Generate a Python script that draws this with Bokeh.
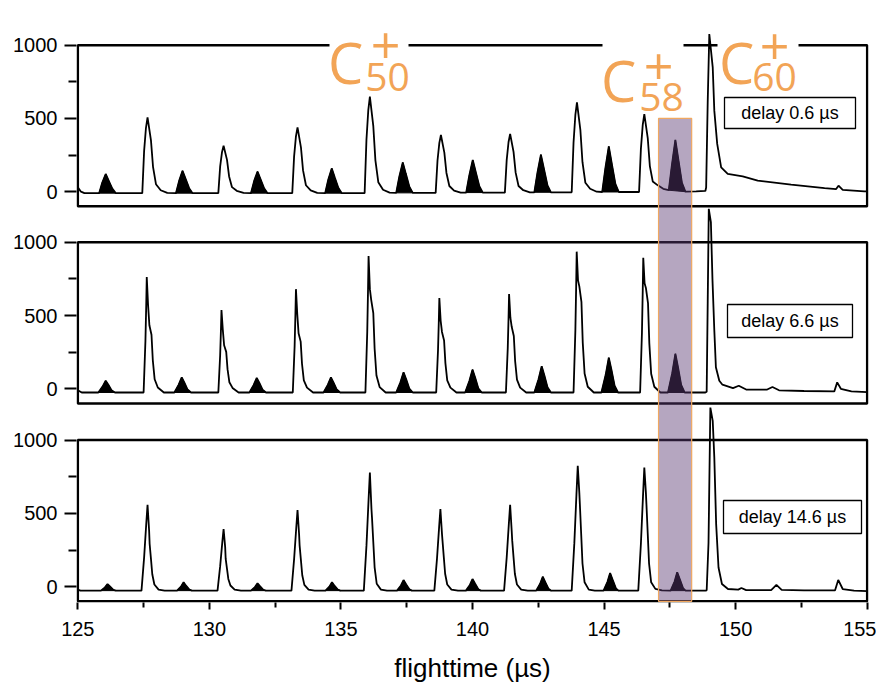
from bokeh.plotting import figure
from bokeh.models import Range1d, FixedTicker, Label
from bokeh.embed import file_html
from bokeh.resources import INLINE

# ---------------- data ----------------
delays = ["delay 0.6 µs", "delay 6.6 µs", "delay 14.6 µs"]

# (flight time in µs, signal) points along each trace
spectrum_0p6 = [
    (125.00, 30), (125.12, 0), (125.25, -10),
    (125.81, -10), (125.93, 63), (126.06, 121), (126.18, 73), (126.31, 21), (126.44, -10),
    (127.45, -10), (127.52, 279), (127.59, 436), (127.65, 507), (127.78, 350), (127.86, 167), (127.97, 51), (128.15, 10), (128.40, -8),
    (128.73, -10), (128.85, 74), (128.98, 143), (129.10, 86), (129.23, 24), (129.36, -10),
    (130.34, -10), (130.41, 173), (130.48, 270), (130.54, 314), (130.67, 217), (130.75, 104), (130.86, 31), (131.04, 6), (131.30, -8),
    (131.58, -10), (131.70, 72), (131.83, 138), (131.95, 83), (132.08, 23), (132.21, -10),
    (133.15, -10), (133.22, 241), (133.29, 378), (133.35, 439), (133.48, 303), (133.56, 145), (133.67, 44), (133.85, 9), (134.10, -8),
    (134.40, -10), (134.52, 83), (134.65, 159), (134.77, 95), (134.90, 27), (135.03, -10),
    (135.90, -10), (135.97, 356), (136.04, 557), (136.10, 648), (136.23, 447), (136.31, 214), (136.42, 65), (136.60, 13), (136.85, -6),
    (137.10, -8), (137.22, 104), (137.35, 200), (137.47, 120), (137.60, 34), (137.73, -8),
    (138.60, -8), (138.67, 213), (138.74, 333), (138.80, 387), (138.93, 267), (139.01, 128), (139.12, 39), (139.30, 8), (139.55, -6),
    (139.76, -6), (139.88, 112), (140.01, 216), (140.13, 130), (140.26, 37), (140.39, -6),
    (141.23, -6), (141.30, 217), (141.37, 339), (141.43, 394), (141.56, 272), (141.64, 130), (141.75, 39), (141.93, 10), (142.18, -4),
    (142.35, -4), (142.47, 132), (142.60, 253), (142.72, 152), (142.85, 43), (142.98, -4),
    (143.77, -4), (143.84, 336), (143.91, 525), (143.97, 610), (144.10, 421), (144.18, 201), (144.29, 61), (144.47, 20), (144.72, 0),
    (144.93, -2), (145.05, 161), (145.18, 309), (145.30, 185), (145.43, 53), (145.56, -2),
    (146.33, -2), (146.40, 292), (146.47, 456), (146.53, 530), (146.66, 366), (146.74, 175), (146.85, 70), (147.03, 45), (147.25, 20),
    (147.46, 10), (147.58, 184), (147.71, 353), (147.83, 212), (147.96, 60), (148.09, 0),
    (148.50, 2), (148.85, 5),
    (148.88, 29), (148.94, 621), (149.00, 1076), (149.13, 848), (149.19, 553), (149.30, 326), (149.45, 166), (149.70, 121),
    (150.27, 104), (150.84, 75), (152.11, 48), (153.38, 25), (153.82, 18), (153.91, 41), (154.07, 12), (154.89, 2), (155.00, 2),
]

spectrum_6p6 = [
    (125.00, -10), (125.15, -25),
    (125.78, -25), (125.94, 15), (126.06, 55), (126.16, 28), (126.28, -10), (126.41, -25),
    (127.50, -25), (127.57, 328), (127.60, 572), (127.62, 763), (127.67, 572), (127.72, 434), (127.80, 369), (127.85, 195), (127.92, 65), (128.04, 9), (128.27, -25),
    (128.67, -25), (128.83, 27), (128.95, 78), (129.05, 42), (129.17, -5), (129.30, -25),
    (130.34, -25), (130.41, 231), (130.44, 404), (130.46, 538), (130.51, 404), (130.56, 297), (130.64, 252), (130.69, 134), (130.76, 45), (130.88, 6), (131.11, -25),
    (131.52, -25), (131.68, 25), (131.80, 74), (131.90, 40), (132.02, -6), (132.15, -25),
    (133.17, -25), (133.24, 292), (133.27, 510), (133.29, 680), (133.34, 510), (133.39, 379), (133.47, 322), (133.52, 171), (133.59, 57), (133.71, 8), (133.94, -25),
    (134.34, -25), (134.50, 27), (134.62, 78), (134.72, 42), (134.84, -5), (134.97, -25),
    (135.93, -25), (136.00, 390), (136.03, 680), (136.05, 906), (136.10, 680), (136.15, 607), (136.23, 516), (136.28, 273), (136.35, 91), (136.47, 12), (136.70, -25),
    (137.10, -25), (137.26, 44), (137.38, 113), (137.48, 65), (137.60, 1), (137.73, -25),
    (138.62, -25), (138.69, 266), (138.72, 464), (138.74, 619), (138.79, 464), (138.84, 388), (138.92, 330), (138.97, 175), (139.04, 58), (139.16, 8), (139.39, -25),
    (139.72, -25), (139.88, 53), (140.00, 131), (140.10, 77), (140.22, 4), (140.35, -25),
    (141.27, -25), (141.34, 278), (141.37, 485), (141.39, 646), (141.44, 485), (141.49, 423), (141.57, 360), (141.62, 190), (141.69, 63), (141.81, 8), (142.04, -25),
    (142.35, -25), (142.51, 65), (142.63, 154), (142.73, 92), (142.85, 11), (142.98, -25),
    (143.84, -25), (143.91, 402), (143.94, 702), (143.96, 936), (144.01, 740), (144.06, 699), (144.14, 594), (144.19, 315), (144.26, 105), (144.38, 14), (144.61, -25),
    (144.90, -25), (145.06, 94), (145.18, 212), (145.28, 130), (145.40, 22), (145.53, -25),
    (146.37, -25), (146.44, 384), (146.47, 670), (146.49, 894), (146.54, 720), (146.59, 688), (146.67, 585), (146.72, 310), (146.79, 103), (146.91, 14), (147.14, -25),
    (147.43, -25), (147.59, 107), (147.71, 239), (147.81, 147), (147.93, 27), (148.06, -25),
    (148.85, -25),
    (148.90, -20), (148.94, 600), (148.98, 1228), (149.06, 1138), (149.12, 745), (149.19, 400), (149.25, 147), (149.38, 55), (149.50, 28),
    (149.90, 5), (150.12, 21), (150.40, -5), (151.20, -5), (151.40, 12), (151.65, -10), (152.60, -15), (153.75, -18), (153.86, 44),
    (154.00, 0), (154.40, -18), (155.00, -22),
]

spectrum_14p6 = [
    (125.00, -20), (125.10, -27),
    (125.88, -27), (126.03, -5), (126.13, 18), (126.23, 0), (126.35, -22), (126.45, -27),
    (127.42, -27), (127.52, 200), (127.60, 427), (127.65, 559), (127.71, 382), (127.73, 291), (127.78, 190), (127.83, 85), (127.91, 15), (128.07, -20), (128.30, -27),
    (128.77, -27), (128.92, 0), (129.02, 30), (129.12, 5), (129.24, -20), (129.34, -27),
    (130.31, -27), (130.41, 140), (130.49, 300), (130.54, 393), (130.60, 270), (130.62, 189), (130.67, 121), (130.72, 53), (130.80, 8), (130.96, -20), (131.20, -27),
    (131.58, -27), (131.73, -3), (131.83, 23), (131.93, 2), (132.05, -21), (132.15, -27),
    (133.12, -27), (133.22, 188), (133.30, 397), (133.35, 523), (133.41, 356), (133.43, 280), (133.48, 179), (133.53, 78), (133.61, 12), (133.77, -20), (134.00, -27),
    (134.41, -27), (134.56, 0), (134.66, 30), (134.76, 5), (134.88, -20), (134.98, -27),
    (135.87, -27), (135.97, 280), (136.05, 592), (136.10, 779), (136.16, 530), (136.18, 473), (136.23, 303), (136.28, 132), (136.36, 20), (136.52, -20), (136.75, -27),
    (137.13, -27), (137.28, 8), (137.38, 45), (137.48, 15), (137.60, -18), (137.70, -27),
    (138.55, -27), (138.65, 190), (138.73, 403), (138.78, 530), (138.84, 360), (138.86, 314), (138.91, 200), (138.96, 88), (139.04, 15), (139.20, -20), (139.45, -27),
    (139.75, -27), (139.90, 12), (140.00, 52), (140.10, 20), (140.22, -17), (140.32, -27),
    (141.20, -27), (141.30, 200), (141.38, 425), (141.43, 559), (141.49, 380), (141.51, 314), (141.56, 200), (141.61, 88), (141.69, 15), (141.85, -20), (142.10, -27),
    (142.42, -27), (142.57, 20), (142.67, 68), (142.77, 30), (142.89, -15), (142.99, -27),
    (143.77, -27), (143.87, 297), (143.95, 627), (144.00, 825), (144.06, 640), (144.08, 564), (144.13, 361), (144.18, 158), (144.26, 30), (144.42, -20), (144.65, -27),
    (144.98, -27), (145.13, 33), (145.23, 93), (145.33, 45), (145.45, -12), (145.55, -27),
    (146.30, -27), (146.40, 293), (146.48, 618), (146.53, 813), (146.59, 640), (146.61, 564), (146.66, 361), (146.71, 158), (146.79, 30), (146.95, -15), (147.20, -25),
    (147.53, -27), (147.68, 35), (147.78, 98), (147.88, 50), (148.00, -10), (148.10, -27),
    (148.85, -27),
    (148.90, -25), (148.97, 300), (149.04, 1222), (149.13, 1131), (149.19, 881), (149.26, 427), (149.35, 131), (149.48, 18), (149.71, -16),
    (150.10, -20), (150.22, -9), (150.40, -24), (151.35, -24), (151.55, 12), (151.75, -22), (152.60, -25), (153.78, -25), (153.90, 46),
    (154.07, -16), (154.50, -27), (155.00, -30),
]

# centres of the black-filled peaks in each trace
filled_0p6 = [126.06, 128.98, 131.83, 134.65, 137.35, 140.01, 142.60, 145.18, 147.71]
filled_6p6 = [126.06, 128.95, 131.80, 134.62, 137.38, 140.00, 142.63, 145.18, 147.71]
filled_14p6 = [126.13, 129.02, 131.83, 134.66, 137.38, 140.00, 142.67, 145.23, 147.78]

ion_sizes = ["50", "58", "60"]
c58_window = [147.07, 148.33]   # highlighted flight-time window
c58_window_top = 500            # top of highlight, in top-panel units

x_ticks = [125, 130, 135, 140, 145, 150, 155]
x_minor = [127.5, 132.5, 137.5, 142.5, 147.5, 152.5]
y_ticks = [0, 500, 1000]
y_minor = [250, 750]
panel_frame = [-100, 1000]

# ---------------- layout ----------------
OFFS = [2695, 1350, 0]          # vertical stacking offsets of the three panels
FW, FH = 792, 594
X0, X1 = 124.95, 155.05
Y0, Y1 = -108, 3945
LEFT, TOP = 76, 8
ORANGE = "#F2A456"


def dx(px):
    return X0 + (px - LEFT) * (X1 - X0) / FW


def dy(py):
    return Y1 - (py - TOP) * (Y1 - Y0) / FH


p = figure(frame_width=FW, frame_height=FH, x_range=Range1d(X0, X1), y_range=Range1d(Y0, Y1),
           output_backend="svg", toolbar_location=None,
           min_border_left=LEFT, min_border_right=8, min_border_top=TOP, min_border_bottom=82)
p.outline_line_color = None
p.grid.visible = False
p.background_fill_color = "white"
p.border_fill_color = "white"

legend_boxes_px = [(724, 855, 97, 128), (727, 852, 304, 337), (723, 861, 500, 533)]
panels = [(spectrum_0p6, filled_0p6), (spectrum_6p6, filled_6p6), (spectrum_14p6, filled_14p6)]

for (spec, filled), off, box, delay in zip(panels, OFFS, legend_boxes_px, delays):
    t = [a for a, b in spec]
    v = [b + off for a, b in spec]
    xs, ys = [], []
    for c in filled:
        pts = [(a, b + off) for a, b in spec if c - 0.3 <= a <= c + 0.4]
        xs.append([q[0] for q in pts])
        ys.append([q[1] for q in pts])
    p.patches(xs, ys, fill_color="black", line_color="black", line_width=1)
    p.line(t, v, line_color="black", line_width=1.8)
    p.quad(left=x_ticks[0], right=x_ticks[-1], bottom=panel_frame[0] + off, top=panel_frame[1] + off,
           fill_color=None, line_color="black", line_width=2.5)
    l, r, tp, bt = box
    p.quad(left=dx(l), right=dx(r), top=dy(tp), bottom=dy(bt), fill_color="white",
           line_color="black", line_width=1.3)
    p.add_layout(Label(x=(dx(l) + dx(r)) / 2, y=(dy(tp) + dy(bt)) / 2, text=delay,
                       text_font="Liberation Sans", text_font_size="18px", text_color="black",
                       text_align="center", text_baseline="middle"))

# highlighted C58 window spanning all panels
p.quad(left=c58_window[0], right=c58_window[1], bottom=panel_frame[0] + OFFS[2],
       top=c58_window_top + OFFS[0], fill_color="#5c3974", fill_alpha=0.45,
       line_color="#F0A860", line_width=1.2)

# white gaps in the top frame line behind the ion labels
label_gaps_px = [(329, 408), (602, 683), (717, 798)]
for g0, g1 in label_gaps_px:
    p.quad(left=dx(g0), right=dx(g1), top=dy(38), bottom=dy(50), fill_color="white", line_color=None)

# ion labels C_n^+
ion_layout_px = [  # C left, C baseline, sub left, sub baseline, plus centre x, plus baseline
    (327.5, 61, 364.7, 76, 385, 44.8),
    (600.5, 79, 638.7, 96, 658, 65.7),
    (718.5, 61, 751.7, 76, 774, 45.7),
]
for n, (cx, cb, sx, sb, px_, pb) in zip(ion_sizes, ion_layout_px):
    for txt, x, y, size, align in [("C", cx, cb, 56, "left"), (n, sx, sb, 39, "left"), ("+", px_, pb, 52, "center")]:
        p.add_layout(Label(x=dx(x), y=dy(y), text=txt, text_font="Open Sans",
                           text_font_size=f"{size}px", text_color=ORANGE, text_align=align,
                           text_baseline="alphabetic"))

# axes
p.xaxis.ticker = FixedTicker(ticks=x_ticks, minor_ticks=x_minor)
p.xaxis.axis_line_color = None
p.xaxis.major_tick_out = 7
p.xaxis.major_tick_in = 0
p.xaxis.minor_tick_out = 5
p.xaxis.minor_tick_in = 0
p.xaxis.major_tick_line_width = 2
p.xaxis.minor_tick_line_width = 2
p.xaxis.major_label_text_font = "Liberation Sans"
p.xaxis.major_label_text_font_size = "20px"
p.xaxis.major_label_text_color = "black"
p.xaxis.major_label_standoff = 12
p.xaxis.axis_label = "flighttime (µs)"
p.xaxis.axis_label_text_font = "Liberation Sans"
p.xaxis.axis_label_text_font_size = "26px"
p.xaxis.axis_label_text_font_style = "normal"
p.xaxis.axis_label_text_color = "black"
p.xaxis.axis_label_standoff = 14

major = [v + o for o in OFFS for v in y_ticks]
minor = [v + o for o in OFFS for v in y_minor]
p.yaxis.ticker = FixedTicker(ticks=major, minor_ticks=minor)
p.yaxis.major_label_overrides = {v + o: str(v) for o in OFFS for v in y_ticks}
p.yaxis.axis_line_color = None
p.yaxis.major_tick_out = 12
p.yaxis.major_tick_in = 0
p.yaxis.minor_tick_out = 8
p.yaxis.minor_tick_in = 0
p.yaxis.major_tick_line_width = 2
p.yaxis.minor_tick_line_width = 2
p.yaxis.major_label_text_font = "Liberation Sans"
p.yaxis.major_label_text_font_size = "20px"
p.yaxis.major_label_text_color = "black"
p.yaxis.major_label_standoff = 7

open("out.html", "w").write(file_html(p, INLINE))
